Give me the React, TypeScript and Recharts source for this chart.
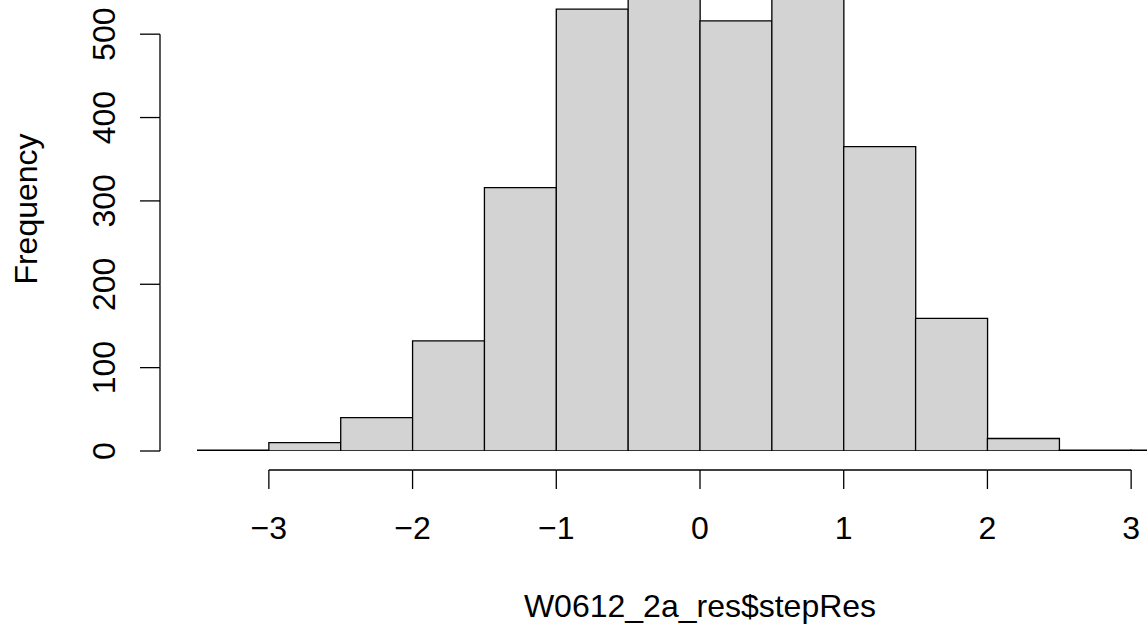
import React from "react";
import { BarChart, Bar, XAxis, YAxis } from "recharts";

// histogram of W0612_2a_res$stepRes, bins of width 0.5
const binMids = [-3.25, -2.75, -2.25, -1.75, -1.25, -0.75, -0.25, 0.25, 0.75, 1.25, 1.75, 2.25, 2.75, 3.25];
const counts = [1, 10, 40, 132, 316, 530, 579, 516, 566, 365, 159, 15, 1, 1];
const xTicks = [-3, -2, -1, 0, 1, 2, 3];
const yTicks = [0, 100, 200, 300, 400, 500];

const data = binMids.map((mid, i) => ({ mid, count: counts[i] }));

const W = 1147;
const H = 628;
const PLOT_LEFT = 197;
const PLOT_RIGHT = 1203;
const PLOT_BOTTOM = 451;
const X_MIN = -3.5;
const X_MAX = 3.5;
const Y_MAX = 541;
const pxPerX = (PLOT_RIGHT - PLOT_LEFT) / (X_MAX - X_MIN);
const pxPerY = PLOT_BOTTOM / Y_MAX;
const FONT = '"Liberation Sans", Arial, Helvetica, sans-serif';
const FS = 32;

const fmt = (v: number) => (v < 0 ? "\u2212" + Math.abs(v) : String(v));

const XTick = (props: any) => {
  const { x, payload } = props;
  const axisY = PLOT_BOTTOM + 19;
  const next = xTicks[xTicks.indexOf(payload.value) + 1];
  return (
    <g>
      {next !== undefined && (
        <line x1={x} y1={axisY} x2={x + (next - payload.value) * pxPerX} y2={axisY} stroke="#000" strokeWidth={1.3} />
      )}
      <line x1={x} y1={axisY} x2={x} y2={axisY + 19} stroke="#000" strokeWidth={1.3} />
      <text x={x} y={axisY + 69} textAnchor="middle" fontSize={FS} fontFamily={FONT} fill="#000">
        {fmt(payload.value)}
      </text>
    </g>
  );
};

const YTick = (props: any) => {
  const { y, payload } = props;
  const axisX = PLOT_LEFT - 37;
  const next = yTicks[yTicks.indexOf(payload.value) + 1];
  const lx = axisX - 45;
  return (
    <g>
      {next !== undefined && (
        <line x1={axisX} y1={y} x2={axisX} y2={y - (next - payload.value) * pxPerY} stroke="#000" strokeWidth={1.3} />
      )}
      <line x1={axisX - 20} y1={y} x2={axisX} y2={y} stroke="#000" strokeWidth={1.3} />
      <text x={lx} y={y} textAnchor="middle" fontSize={FS} fontFamily={FONT} fill="#000" transform={`rotate(-90, ${lx}, ${y})`}>
        {fmt(payload.value)}
      </text>
    </g>
  );
};

const XTitle = () => (
  <text x={700} y={617} textAnchor="middle" fontSize={FS} fontFamily={FONT} fill="#000">
    W0612_2a_res$stepRes
  </text>
);

const YTitle = () => (
  <text x={37} y={209} textAnchor="middle" fontSize={FS} fontFamily={FONT} fill="#000" transform="rotate(-90, 37, 209)">
    Frequency
  </text>
);

export default function App() {
  return (
    <div style={{ position: "absolute", left: 0, top: 0, width: W, height: H, background: "#fff" }}>
      <BarChart
        width={W}
        height={H}
        data={data}
        margin={{ top: 0, right: W - PLOT_RIGHT, bottom: 0, left: 0 }}
        barCategoryGap={0}
        barGap={0}
      >
        <XAxis
          dataKey="mid"
          type="number"
          domain={[X_MIN, X_MAX]}
          ticks={xTicks}
          interval={0}
          allowDataOverflow
          axisLine={false}
          tickLine={false}
          height={H - PLOT_BOTTOM}
          tick={<XTick />}
          label={<XTitle />}
        />
        <YAxis
          type="number"
          domain={[0, Y_MAX]}
          ticks={yTicks}
          interval={0}
          allowDataOverflow
          axisLine={false}
          tickLine={false}
          width={PLOT_LEFT}
          tick={<YTick />}
          label={<YTitle />}
        />
        <Bar dataKey="count" fill="#D3D3D3" stroke="#000" strokeWidth={1.3} isAnimationActive={false} />
      </BarChart>
    </div>
  );
}
